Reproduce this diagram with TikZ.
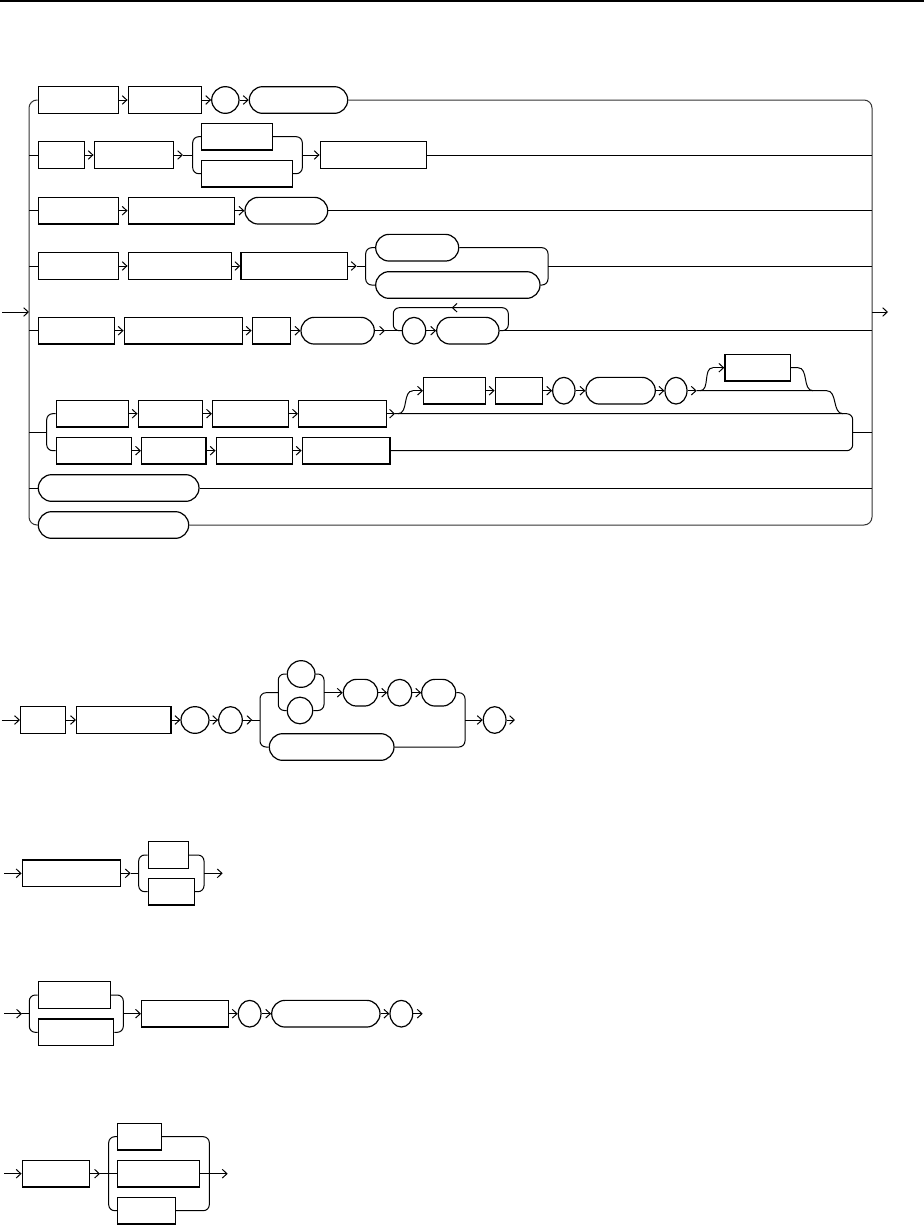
\documentclass[tikz,border=0pt]{standalone}
\usetikzlibrary{arrows.meta,shapes.geometric}
\newcommand\BX[5]{\node[#1,minimum width={(#4-#3)*0.75pt},minimum height=20pt] (#2) at ({(#3+#4)/2},#5) {};}
\tikzset{
  box/.style={draw,rectangle,line width=1.1pt,inner sep=0pt},
  term/.style={draw,rectangle,rounded corners=10pt,line width=0.9pt,inner sep=0pt},
  circ/.style={draw,ellipse,line width=0.9pt,inner sep=0pt},
  ln/.style={line width=0.75pt},
  arr/.style={ln,-{Straight Barb[length=3.5pt,width=6.5pt]}},
  rc/.style={ln,rounded corners=4.5pt},
  rail/.style={ln,rounded corners=6pt,black!80}
}
\begin{document}
\begin{tikzpicture}[x=0.75pt,y=-0.75pt]
\useasboundingbox (0,0) rectangle (924,1225);
\draw[line width=1.1pt] (0,1) -- (924,1);
% ================= diagram 1 =================
\coordinate (L) at (29,312);
\coordinate (R) at (872,312);
\coordinate (in1) at (2,312);
\coordinate (out1) at (888,312);
% row 1
\BX{box}{a1}{38.3}{118.3}{100}
\BX{box}{a2}{128.3}{201.3}{100}
\BX{circ}{a3}{211.7}{239}{100}
\BX{term}{a4}{249.3}{347.7}{100}
\draw[arr] (a1.east) -- (a2.west);
\draw[arr] (a2.east) -- (a3.west);
\draw[arr] (a3.east) -- (a4.west);
% row 2
\BX{box}{b1}{38.3}{84.3}{155}
\BX{box}{b2}{94.3}{173.7}{155}
\BX{box}{b3}{201.7}{272.3}{136.7}
\BX{box}{b4}{201.7}{292.3}{173.7}
\BX{box}{b5}{320.3}{426.7}{155}
\coordinate (bA) at (183,155);
\coordinate (bL) at (192.7,155);
\coordinate (bR) at (302.3,155);
\draw[arr] (b1.east) -- (b2.west);
\draw[arr] (b2.east) -- (bA);
\draw[ln] (bA) -- (bL);
\draw[rc] (b3.west) -| (bL) |- (b4.west);
\draw[rc] (b3.east) -| (bR) |- (b4.east);
\draw[arr] (bR) -- (b5.west);
% row 3
\BX{box}{c1}{38.3}{118.3}{210.7}
\BX{box}{c2}{128.3}{234.3}{210.7}
\BX{term}{c3}{245}{327.7}{210.7}
\draw[arr] (c1.east) -- (c2.west);
\draw[arr] (c2.east) -- (c3.west);
% row 4
\BX{box}{d1}{38.3}{118.3}{266}
\BX{box}{d2}{128.3}{231.3}{266}
\BX{box}{d3}{241}{347.3}{266}
\BX{term}{d4}{375.7}{458.7}{247.7}
\BX{term}{d5}{375.7}{540}{285}
\coordinate (dA) at (356.7,266);
\coordinate (dL) at (365.7,266);
\coordinate (dR) at (548,266);
\draw[arr] (d1.east) -- (d2.west);
\draw[arr] (d2.east) -- (d3.west);
\draw[arr] (d3.east) -- (dA);
\draw[ln] (dA) -- (dL);
\draw[rc] (d4.west) -| (dL) |- (d5.west);
\draw[rc] (d4.east) -| (dR) |- (d5.east);
% row 5
\BX{box}{e1}{38.3}{114.3}{330.7}
\BX{box}{e2}{124.3}{242.3}{330.7}
\BX{box}{e3}{252.3}{290.3}{330.7}
\BX{term}{e4}{301}{374.3}{330.7}
\BX{circ}{e5}{402.3}{425.7}{330.7}
\BX{term}{e6}{436.7}{499}{330.7}
\coordinate (eA) at (385,330.7);
\coordinate (eL) at (393.3,330.7);
\coordinate (eR) at (508.3,330.7);
\coordinate (eT) at (450,307.7);
\coordinate (eB) at (470,307.7);
\coordinate (eC) at (451.7,307.7);
\draw[arr] (e1.east) -- (e2.west);
\draw[arr] (e2.east) -- (e3.west);
\draw[arr] (e3.east) -- (e4.west);
\draw[arr] (e4.east) -- (eA);
\draw[ln] (eA) -- (e5.west);
\draw[arr] (e5.east) -- (e6.west);
\draw[rc] (e6.east) -- (eR) |- (eT) -| (eL) -- (e5.west);
\draw[arr] (eB) -- (eC);
% row 6
\coordinate (fL) at (46.7,432.2);
\BX{box}{f1}{56.3}{128.3}{413.7}
\BX{box}{f2}{138.3}{202.3}{413.7}
\BX{box}{f3}{212.7}{288.3}{413.7}
\BX{box}{f4}{298.7}{386.3}{413.7}
\BX{box}{g1}{56.3}{131.3}{450.7}
\BX{box}{g2}{141.7}{206}{450.7}
\BX{box}{g3}{216.3}{292.3}{450.7}
\BX{box}{g4}{302.3}{390}{450.7}
\draw[rc] (f1.west) -| (fL) |- (g1.west);
\draw[arr] (f1.east) -- (f2.west);
\draw[arr] (f2.east) -- (f3.west);
\draw[arr] (f3.east) -- (f4.west);
\draw[arr] (g1.east) -- (g2.west);
\draw[arr] (g2.east) -- (g3.west);
\draw[arr] (g3.east) -- (g4.west);
\BX{box}{q1}{423.7}{485.3}{390.7}
\BX{box}{q2}{495.3}{542.7}{390.7}
\BX{circ}{q3}{552.7}{575}{390.7}
\BX{term}{q4}{586}{655.3}{390.7}
\BX{circ}{q5}{665}{687}{390.7}
\BX{box}{q6}{725}{790.3}{367.7}
\coordinate (fA) at (395,413.7);
\coordinate (fS) at (398,413.7);
\coordinate (fT) at (413,390.7);
\coordinate (qA) at (696.7,390.7);
\coordinate (qS) at (700,390.7);
\coordinate (qT) at (713,367.7);
\coordinate (qU) at (798,367.7);
\coordinate (qV) at (813,390.7);
\coordinate (qW) at (826.7,390.7);
\coordinate (fV) at (843,413.7);
\coordinate (fR) at (852.7,432.2);
\draw[arr] (f4.east) -- (fA);
\draw[ln] (fA) -- (fS) to[out=0,in=180] (fT);
\draw[arr] (fT) -- (q1.west);
\draw[arr] (q1.east) -- (q2.west);
\draw[arr] (q2.east) -- (q3.west);
\draw[arr] (q3.east) -- (q4.west);
\draw[arr] (q4.east) -- (q5.west);
\draw[arr] (q5.east) -- (qA);
\draw[ln] (qA) -- (qW) to[out=0,in=180] (fV);
\draw[ln] (qS) to[out=0,in=180] (qT);
\draw[arr] (qT) -- (q6.west);
\draw[ln] (q6.east) -- (qU) to[out=0,in=180] (qV);
\draw[rc] (fS) -| (fR) |- (g4.east);
% rows 7, 8
\BX{term}{h1}{38.3}{199}{488}
\BX{term}{h2}{38.3}{188.7}{525}
% rails
\draw[rail] (a1.west) -| (L) |- (h2.west);
\draw[rail] (a4.east) -| (R) |- (h2.east);
\draw[ln] (b1.west -| L) -- (b1.west);
\draw[ln] (c1.west -| L) -- (c1.west);
\draw[ln] (d1.west -| L) -- (d1.west);
\draw[ln] (e1.west -| L) -- (e1.west);
\draw[ln] (fL -| L) -- (fL);
\draw[ln] (h1.west -| L) -- (h1.west);
\draw[ln] (b5.east) -- (b5.east -| R);
\draw[ln] (c3.east) -- (c3.east -| R);
\draw[ln] (dR) -- (dR -| R);
\draw[ln] (e6.east) -- (e6.east -| R);
\draw[ln] (fR) -- (fR -| R);
\draw[ln] (h1.east) -- (h1.east -| R);
\draw[arr] (in1) -- (L);
\draw[arr] (R) -- (out1);
% ================= diagram 2 =================
\coordinate (kin) at (1.7,720);
\BX{box}{k1}{20.7}{65.7}{720}
\BX{box}{k2}{76.7}{171}{720}
\BX{circ}{k3}{181}{209}{720}
\BX{circ}{k4}{218.7}{242.3}{720}
\coordinate (kA) at (252.3,720);
\coordinate (kL) at (260,720);
\coordinate (kN) at (278.3,692.7);
\coordinate (kM) at (324,692.7);
\BX{circ}{k5}{287.3}{315}{674}
\BX{circ}{k6}{287.3}{312.7}{710.5}
\BX{term}{k7}{343.3}{377.7}{692.7}
\BX{circ}{k8}{387.7}{411.7}{692.7}
\BX{term}{k9}{421.7}{455.7}{692.7}
\BX{term}{k10}{269.3}{394}{747}
\coordinate (kR) at (465,720);
\BX{circ}{k11}{483.3}{506}{720}
\coordinate (kout) at (515,720);
\draw[arr] (kin) -- (k1.west);
\draw[arr] (k1.east) -- (k2.west);
\draw[arr] (k2.east) -- (k3.west);
\draw[arr] (k3.east) -- (k4.west);
\draw[arr] (k4.east) -- (kA);
\draw[ln] (kA) -- (kL);
\draw[rc] (kN) -| (kL) |- (k10.west);
\draw[rc] (k5.west) -| (kN) |- (k6.west);
\draw[rc] (k5.east) -| (kM) |- (k6.east);
\draw[arr] (kM) -- (k7.west);
\draw[arr] (k7.east) -- (k8.west);
\draw[arr] (k8.east) -- (k9.west);
\draw[rc] (k9.east) -| (kR) |- (k10.east);
\draw[arr] (kR) -- (k11.west);
\draw[arr] (k11.east) -- (kout);
% ================= diagram 3 =================
\coordinate (min) at (4,873.3);
\BX{box}{m1}{22.3}{120.3}{873.3}
\coordinate (mA) at (130.7,873.3);
\coordinate (mL) at (138.7,873.3);
\BX{box}{m2}{148.3}{188.3}{855}
\BX{box}{m3}{148.3}{194.3}{891.7}
\coordinate (mR) at (204,873.3);
\coordinate (mout) at (222.7,873.3);
\draw[arr] (min) -- (m1.west);
\draw[arr] (m1.east) -- (mA);
\draw[ln] (mA) -- (mL);
\draw[rc] (m2.west) -| (mL) |- (m3.west);
\draw[rc] (m2.east) -| (mR) |- (m3.east);
\draw[arr] (mR) -- (mout);
% ================= diagram 4 =================
\coordinate (nin) at (4,1013.7);
\coordinate (nA) at (22,1013.7);
\coordinate (nL) at (29.3,1013.7);
\BX{box}{n1}{38.3}{110.3}{995}
\BX{box}{n2}{38.3}{113.7}{1032.3}
\coordinate (nR) at (123.3,1013.7);
\BX{box}{n3}{141.7}{228.3}{1013.7}
\BX{circ}{n4}{238.3}{261}{1013.7}
\BX{term}{n5}{271.7}{380}{1013.7}
\BX{circ}{n6}{390}{412.7}{1013.7}
\coordinate (nout) at (422.7,1013.7);
\draw[arr] (nin) -- (nA);
\draw[ln] (nA) -- (nL);
\draw[rc] (n1.west) -| (nL) |- (n2.west);
\draw[rc] (n1.east) -| (nR) |- (n2.east);
\draw[arr] (nR) -- (n3.west);
\draw[arr] (n3.east) -- (n4.west);
\draw[arr] (n4.east) -- (n5.west);
\draw[arr] (n5.east) -- (n6.west);
\draw[arr] (n6.east) -- (nout);
% ================= diagram 5 =================
\coordinate (pin) at (4,1173.7);
\BX{box}{p1}{22.3}{89.3}{1173.7}
\coordinate (pA) at (100,1173.7);
\coordinate (pL) at (108.7,1173.7);
\BX{box}{p2}{117.7}{161.3}{1136.7}
\BX{box}{p3}{117.7}{199.3}{1173.7}
\BX{box}{p4}{117.7}{175.3}{1210.7}
\coordinate (pR) at (209.3,1173.7);
\coordinate (pout) at (227.7,1173.7);
\draw[arr] (pin) -- (p1.west);
\draw[arr] (p1.east) -- (pA);
\draw[ln] (pA) -- (p3.west);
\draw[rc] (p2.west) -| (pL) |- (p4.west);
\draw[rc] (p2.east) -| (pR) |- (p4.east);
\draw[ln] (p3.east) -- (pR);
\draw[arr] (pR) -- (pout);
\end{tikzpicture}
\end{document}
